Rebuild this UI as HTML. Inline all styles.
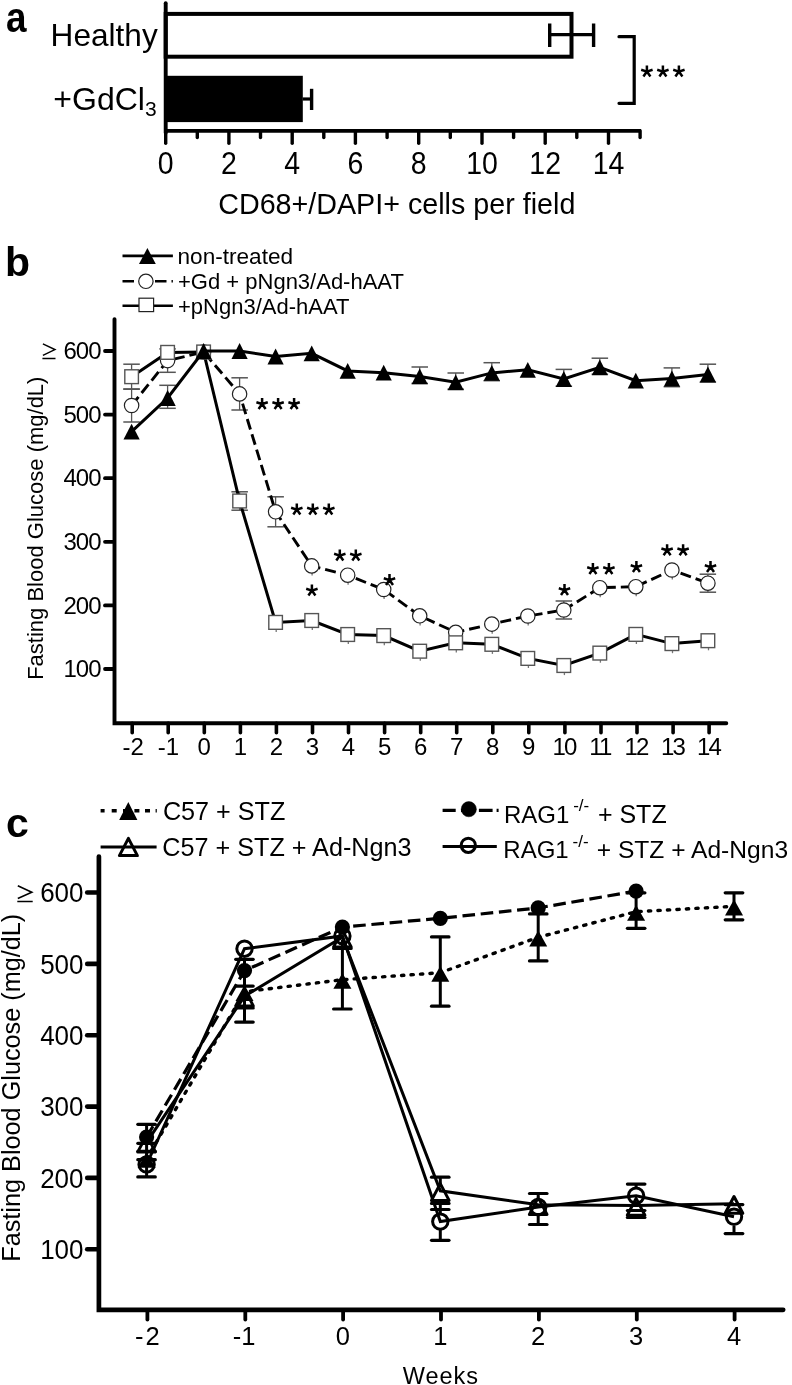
<!DOCTYPE html>
<html><head><meta charset="utf-8"><style>
html,body{margin:0;padding:0;background:#fff;}
svg{display:block;filter:grayscale(1);}
</style></head><body>
<svg width="792" height="1385" viewBox="0 0 792 1385">
<defs><path id="ast" d="M0,-6.1L0,0M-5.7,-1.8L0,0L5.7,-1.8M-3.5,4.9L0,0L3.5,4.9" fill="none" stroke="#000" stroke-width="2.5" stroke-linejoin="round"/></defs>
<rect width="792" height="1385" fill="#fff"/>
<text transform="translate(6.1,31.9) scale(0.9,1.05)" font-family="Liberation Sans" font-size="41" font-weight="bold">a</text>
<rect x="165.7" y="13.9" width="405.8" height="42.8" fill="#fff" stroke="#000" stroke-width="4"/>
<rect x="165.7" y="75.8" width="137.1" height="46.3" fill="#000"/>
<line x1="549.7" y1="34.7" x2="593.6" y2="34.7" stroke="#000" stroke-width="3.2" stroke-linecap="butt" />
<line x1="549.7" y1="23.5" x2="549.7" y2="47.0" stroke="#000" stroke-width="3.4" stroke-linecap="butt" />
<line x1="593.6" y1="23.5" x2="593.6" y2="47.0" stroke="#000" stroke-width="3.4" stroke-linecap="butt" />
<line x1="302.6" y1="99.0" x2="311.6" y2="99.0" stroke="#000" stroke-width="3.2" stroke-linecap="butt" />
<line x1="311.6" y1="88.8" x2="311.6" y2="110.0" stroke="#000" stroke-width="3.4" stroke-linecap="butt" />
<line x1="165.7" y1="3.3" x2="165.7" y2="132.7" stroke="#000" stroke-width="3.9" stroke-linecap="round" />
<line x1="165.7" y1="130.9" x2="641.0" y2="130.9" stroke="#000" stroke-width="3.7" stroke-linecap="butt" />
<line x1="165.7" y1="130.8" x2="165.7" y2="143.2" stroke="#000" stroke-width="3.4" stroke-linecap="round" />
<line x1="197.3" y1="130.8" x2="197.3" y2="137.6" stroke="#000" stroke-width="3.4" stroke-linecap="round" />
<line x1="228.9" y1="130.8" x2="228.9" y2="143.2" stroke="#000" stroke-width="3.4" stroke-linecap="round" />
<line x1="260.5" y1="130.8" x2="260.5" y2="137.6" stroke="#000" stroke-width="3.4" stroke-linecap="round" />
<line x1="292.2" y1="130.8" x2="292.2" y2="143.2" stroke="#000" stroke-width="3.4" stroke-linecap="round" />
<line x1="323.8" y1="130.8" x2="323.8" y2="137.6" stroke="#000" stroke-width="3.4" stroke-linecap="round" />
<line x1="355.4" y1="130.8" x2="355.4" y2="143.2" stroke="#000" stroke-width="3.4" stroke-linecap="round" />
<line x1="387.1" y1="130.8" x2="387.1" y2="137.6" stroke="#000" stroke-width="3.4" stroke-linecap="round" />
<line x1="418.7" y1="130.8" x2="418.7" y2="143.2" stroke="#000" stroke-width="3.4" stroke-linecap="round" />
<line x1="450.3" y1="130.8" x2="450.3" y2="137.6" stroke="#000" stroke-width="3.4" stroke-linecap="round" />
<line x1="482.0" y1="130.8" x2="482.0" y2="143.2" stroke="#000" stroke-width="3.4" stroke-linecap="round" />
<line x1="513.6" y1="130.8" x2="513.6" y2="137.6" stroke="#000" stroke-width="3.4" stroke-linecap="round" />
<line x1="545.2" y1="130.8" x2="545.2" y2="143.2" stroke="#000" stroke-width="3.4" stroke-linecap="round" />
<line x1="576.8" y1="130.8" x2="576.8" y2="137.6" stroke="#000" stroke-width="3.4" stroke-linecap="round" />
<line x1="608.5" y1="130.8" x2="608.5" y2="143.2" stroke="#000" stroke-width="3.4" stroke-linecap="round" />
<line x1="640.1" y1="130.8" x2="640.1" y2="137.6" stroke="#000" stroke-width="3.4" stroke-linecap="round" />
<text transform="translate(165.7,173.6) scale(1,1.1)" font-family="Liberation Sans" font-size="28.5" font-weight="normal" text-anchor="middle" >0</text>
<text transform="translate(228.9,173.6) scale(1,1.1)" font-family="Liberation Sans" font-size="28.5" font-weight="normal" text-anchor="middle" >2</text>
<text transform="translate(292.2,173.6) scale(1,1.1)" font-family="Liberation Sans" font-size="28.5" font-weight="normal" text-anchor="middle" >4</text>
<text transform="translate(355.4,173.6) scale(1,1.1)" font-family="Liberation Sans" font-size="28.5" font-weight="normal" text-anchor="middle" >6</text>
<text transform="translate(418.7,173.6) scale(1,1.1)" font-family="Liberation Sans" font-size="28.5" font-weight="normal" text-anchor="middle" >8</text>
<text transform="translate(482.0,173.6) scale(1,1.1)" font-family="Liberation Sans" font-size="28.5" font-weight="normal" text-anchor="middle" >10</text>
<text transform="translate(545.2,173.6) scale(1,1.1)" font-family="Liberation Sans" font-size="28.5" font-weight="normal" text-anchor="middle" >12</text>
<text transform="translate(608.5,173.6) scale(1,1.1)" font-family="Liberation Sans" font-size="28.5" font-weight="normal" text-anchor="middle" >14</text>
<text x="396.8" y="214.0" font-family="Liberation Sans" font-size="28.7" font-weight="normal" text-anchor="middle" >CD68+/DAPI+ cells per field</text>
<text x="50.6" y="45.9" font-family="Liberation Sans" font-size="31.6" font-weight="normal" text-anchor="start" >Healthy</text>
<text x="53.3" y="109.5" font-family="Liberation Sans" font-size="32" font-weight="normal" text-anchor="start" >+GdCl<tspan font-size="21" dy="6.5">3</tspan></text>
<polyline points="619.0,36.7 634.2,36.7 634.2,103.3 619.0,103.3" fill="none" stroke="#000" stroke-width="3.2" stroke-linecap="round" stroke-linejoin="miter"/>
<use href="#ast" x="646.9" y="71.6"/>
<use href="#ast" x="662.9" y="71.6"/>
<use href="#ast" x="678.9" y="71.6"/>
<text x="5.0" y="275.5" font-family="Liberation Sans" font-size="41" font-weight="bold" text-anchor="start" >b</text>
<line x1="122.5" y1="255.9" x2="172.9" y2="255.9" stroke="#000" stroke-width="2.6" stroke-linecap="butt" />
<polygon points="147.4,248.1 155.8,263.9 139.0,263.9" fill="#000" stroke="none" stroke-width="0" stroke-linejoin="miter"/>
<polyline points="122.5,281.3 172.9,281.3" fill="none" stroke="#000" stroke-width="2.6" stroke-linecap="butt" stroke-linejoin="miter" stroke-dasharray="11.5 21 11.5 5 1.3 0"/>
<circle cx="145.9" cy="281.3" r="7.2" fill="#fff" stroke="#222" stroke-width="1.2"/>
<line x1="122.5" y1="305.8" x2="172.9" y2="305.8" stroke="#000" stroke-width="2.6" stroke-linecap="butt" />
<rect x="139.0" y="298.2" width="14.6" height="13.4" fill="#fff" stroke="#222" stroke-width="1.2"/>
<text x="177.5" y="263.9" font-family="Liberation Sans" font-size="22.6" font-weight="normal" text-anchor="start" >non-treated</text>
<text x="178.0" y="289.0" font-family="Liberation Sans" font-size="22" font-weight="normal" text-anchor="start" >+Gd + pNgn3/Ad-hAAT</text>
<text x="178.0" y="313.8" font-family="Liberation Sans" font-size="22" font-weight="normal" text-anchor="start" >+pNgn3/Ad-hAAT</text>
<polyline points="114.5,319.1 114.5,723.2 726.3,723.2" fill="none" stroke="#000" stroke-width="3.9" stroke-linecap="round" stroke-linejoin="miter"/>
<line x1="105.0" y1="351.0" x2="114.0" y2="351.0" stroke="#000" stroke-width="3.8" stroke-linecap="round" />
<text x="100.5" y="359.2" font-family="Liberation Sans" font-size="24" font-weight="normal" text-anchor="end" letter-spacing="-1">600</text>
<line x1="105.0" y1="414.6" x2="114.0" y2="414.6" stroke="#000" stroke-width="3.8" stroke-linecap="round" />
<text x="100.5" y="422.8" font-family="Liberation Sans" font-size="24" font-weight="normal" text-anchor="end" letter-spacing="-1">500</text>
<line x1="105.0" y1="478.2" x2="114.0" y2="478.2" stroke="#000" stroke-width="3.8" stroke-linecap="round" />
<text x="100.5" y="486.4" font-family="Liberation Sans" font-size="24" font-weight="normal" text-anchor="end" letter-spacing="-1">400</text>
<line x1="105.0" y1="541.8" x2="114.0" y2="541.8" stroke="#000" stroke-width="3.8" stroke-linecap="round" />
<text x="100.5" y="550.0" font-family="Liberation Sans" font-size="24" font-weight="normal" text-anchor="end" letter-spacing="-1">300</text>
<line x1="105.0" y1="605.4" x2="114.0" y2="605.4" stroke="#000" stroke-width="3.8" stroke-linecap="round" />
<text x="100.5" y="613.6" font-family="Liberation Sans" font-size="24" font-weight="normal" text-anchor="end" letter-spacing="-1">200</text>
<line x1="105.0" y1="669.0" x2="114.0" y2="669.0" stroke="#000" stroke-width="3.8" stroke-linecap="round" />
<text x="100.5" y="677.2" font-family="Liberation Sans" font-size="24" font-weight="normal" text-anchor="end" letter-spacing="-1">100</text>
<path d="M42.9,343.9L54.9,349.6L42.9,355.4M42.4,358.5L55.5,358.5" fill="none" stroke="#000" stroke-width="1.5"/>
<line x1="132.2" y1="723.2" x2="132.2" y2="732.8" stroke="#000" stroke-width="3.6" stroke-linecap="round" />
<text x="133.2" y="755.3" font-family="Liberation Sans" font-size="24" font-weight="normal" text-anchor="middle" letter-spacing="0">-2</text>
<line x1="168.2" y1="723.2" x2="168.2" y2="732.8" stroke="#000" stroke-width="3.6" stroke-linecap="round" />
<text x="168.4" y="755.3" font-family="Liberation Sans" font-size="24" font-weight="normal" text-anchor="middle" letter-spacing="0">-1</text>
<line x1="204.3" y1="723.2" x2="204.3" y2="732.8" stroke="#000" stroke-width="3.6" stroke-linecap="round" />
<text x="204.3" y="755.3" font-family="Liberation Sans" font-size="24" font-weight="normal" text-anchor="middle" letter-spacing="0">0</text>
<line x1="240.4" y1="723.2" x2="240.4" y2="732.8" stroke="#000" stroke-width="3.6" stroke-linecap="round" />
<text x="240.4" y="755.3" font-family="Liberation Sans" font-size="24" font-weight="normal" text-anchor="middle" letter-spacing="0">1</text>
<line x1="276.4" y1="723.2" x2="276.4" y2="732.8" stroke="#000" stroke-width="3.6" stroke-linecap="round" />
<text x="276.4" y="755.3" font-family="Liberation Sans" font-size="24" font-weight="normal" text-anchor="middle" letter-spacing="0">2</text>
<line x1="312.5" y1="723.2" x2="312.5" y2="732.8" stroke="#000" stroke-width="3.6" stroke-linecap="round" />
<text x="312.5" y="755.3" font-family="Liberation Sans" font-size="24" font-weight="normal" text-anchor="middle" letter-spacing="0">3</text>
<line x1="348.5" y1="723.2" x2="348.5" y2="732.8" stroke="#000" stroke-width="3.6" stroke-linecap="round" />
<text x="348.5" y="755.3" font-family="Liberation Sans" font-size="24" font-weight="normal" text-anchor="middle" letter-spacing="0">4</text>
<line x1="384.6" y1="723.2" x2="384.6" y2="732.8" stroke="#000" stroke-width="3.6" stroke-linecap="round" />
<text x="384.6" y="755.3" font-family="Liberation Sans" font-size="24" font-weight="normal" text-anchor="middle" letter-spacing="0">5</text>
<line x1="420.7" y1="723.2" x2="420.7" y2="732.8" stroke="#000" stroke-width="3.6" stroke-linecap="round" />
<text x="420.7" y="755.3" font-family="Liberation Sans" font-size="24" font-weight="normal" text-anchor="middle" letter-spacing="0">6</text>
<line x1="456.7" y1="723.2" x2="456.7" y2="732.8" stroke="#000" stroke-width="3.6" stroke-linecap="round" />
<text x="456.7" y="755.3" font-family="Liberation Sans" font-size="24" font-weight="normal" text-anchor="middle" letter-spacing="0">7</text>
<line x1="492.8" y1="723.2" x2="492.8" y2="732.8" stroke="#000" stroke-width="3.6" stroke-linecap="round" />
<text x="492.8" y="755.3" font-family="Liberation Sans" font-size="24" font-weight="normal" text-anchor="middle" letter-spacing="0">8</text>
<line x1="528.8" y1="723.2" x2="528.8" y2="732.8" stroke="#000" stroke-width="3.6" stroke-linecap="round" />
<text x="528.8" y="755.3" font-family="Liberation Sans" font-size="24" font-weight="normal" text-anchor="middle" letter-spacing="0">9</text>
<line x1="564.9" y1="723.2" x2="564.9" y2="732.8" stroke="#000" stroke-width="3.6" stroke-linecap="round" />
<text x="564.0" y="755.3" font-family="Liberation Sans" font-size="24" font-weight="normal" text-anchor="middle" letter-spacing="-1.8">10</text>
<line x1="601.0" y1="723.2" x2="601.0" y2="732.8" stroke="#000" stroke-width="3.6" stroke-linecap="round" />
<text x="599.8" y="755.3" font-family="Liberation Sans" font-size="24" font-weight="normal" text-anchor="middle" letter-spacing="-1.8">11</text>
<line x1="637.0" y1="723.2" x2="637.0" y2="732.8" stroke="#000" stroke-width="3.6" stroke-linecap="round" />
<text x="636.0" y="755.3" font-family="Liberation Sans" font-size="24" font-weight="normal" text-anchor="middle" letter-spacing="-1.8">12</text>
<line x1="673.1" y1="723.2" x2="673.1" y2="732.8" stroke="#000" stroke-width="3.6" stroke-linecap="round" />
<text x="672.5" y="755.3" font-family="Liberation Sans" font-size="24" font-weight="normal" text-anchor="middle" letter-spacing="-1.8">13</text>
<line x1="709.1" y1="723.2" x2="709.1" y2="732.8" stroke="#000" stroke-width="3.6" stroke-linecap="round" />
<text x="708.5" y="755.3" font-family="Liberation Sans" font-size="24" font-weight="normal" text-anchor="middle" letter-spacing="-1.8">14</text>
<text x="43.0" y="528.2" font-family="Liberation Sans" font-size="22" font-weight="normal" text-anchor="middle" transform="rotate(-90 43 528.2)">Fasting Blood Glucose (mg/dL)</text>
<line x1="131.6" y1="389.0" x2="131.6" y2="422.0" stroke="#555" stroke-width="1.3" stroke-linecap="butt" />
<line x1="123.3" y1="389.0" x2="139.8" y2="389.0" stroke="#555" stroke-width="1.5" stroke-linecap="butt" />
<line x1="123.3" y1="422.0" x2="139.8" y2="422.0" stroke="#555" stroke-width="1.5" stroke-linecap="butt" />
<line x1="167.6" y1="348.9" x2="167.6" y2="372.3" stroke="#555" stroke-width="1.3" stroke-linecap="butt" />
<line x1="159.3" y1="348.9" x2="175.8" y2="348.9" stroke="#555" stroke-width="1.5" stroke-linecap="butt" />
<line x1="159.3" y1="372.3" x2="175.8" y2="372.3" stroke="#555" stroke-width="1.5" stroke-linecap="butt" />
<line x1="239.6" y1="377.8" x2="239.6" y2="410.0" stroke="#555" stroke-width="1.3" stroke-linecap="butt" />
<line x1="231.4" y1="377.8" x2="247.9" y2="377.8" stroke="#555" stroke-width="1.5" stroke-linecap="butt" />
<line x1="231.4" y1="410.0" x2="247.9" y2="410.0" stroke="#555" stroke-width="1.5" stroke-linecap="butt" />
<line x1="275.6" y1="496.8" x2="275.6" y2="526.8" stroke="#555" stroke-width="1.3" stroke-linecap="butt" />
<line x1="267.4" y1="496.8" x2="283.9" y2="496.8" stroke="#555" stroke-width="1.5" stroke-linecap="butt" />
<line x1="267.4" y1="526.8" x2="283.9" y2="526.8" stroke="#555" stroke-width="1.5" stroke-linecap="butt" />
<line x1="563.8" y1="601.0" x2="563.8" y2="619.0" stroke="#555" stroke-width="1.3" stroke-linecap="butt" />
<line x1="555.6" y1="601.0" x2="572.1" y2="601.0" stroke="#555" stroke-width="1.5" stroke-linecap="butt" />
<line x1="555.6" y1="619.0" x2="572.1" y2="619.0" stroke="#555" stroke-width="1.5" stroke-linecap="butt" />
<line x1="707.9" y1="574.2" x2="707.9" y2="592.2" stroke="#555" stroke-width="1.3" stroke-linecap="butt" />
<line x1="699.6" y1="574.2" x2="716.1" y2="574.2" stroke="#555" stroke-width="1.5" stroke-linecap="butt" />
<line x1="699.6" y1="592.2" x2="716.1" y2="592.2" stroke="#555" stroke-width="1.5" stroke-linecap="butt" />
<polyline points="131.6,405.5 167.6,360.6 203.6,352.0 239.6,393.9 275.6,511.8 311.7,565.9 347.7,575.2 383.7,589.5 419.7,615.8 455.7,632.3 491.8,624.1 527.8,616.0 563.8,610.0 599.8,587.7 635.8,586.7 671.9,570.0 707.9,583.2" fill="none" stroke="#000" stroke-width="2.9" stroke-linecap="butt" stroke-linejoin="miter" stroke-dasharray="11 5"/>
<line x1="312.1" y1="572.9" x2="312.1" y2="575.5" stroke="#777" stroke-width="1.3" stroke-linecap="butt" />
<line x1="348.1" y1="582.2" x2="348.1" y2="584.8" stroke="#777" stroke-width="1.3" stroke-linecap="butt" />
<line x1="384.1" y1="596.5" x2="384.1" y2="599.1" stroke="#777" stroke-width="1.3" stroke-linecap="butt" />
<line x1="420.1" y1="622.8" x2="420.1" y2="625.4" stroke="#777" stroke-width="1.3" stroke-linecap="butt" />
<line x1="456.1" y1="639.3" x2="456.1" y2="641.9" stroke="#777" stroke-width="1.3" stroke-linecap="butt" />
<line x1="492.2" y1="631.1" x2="492.2" y2="633.7" stroke="#777" stroke-width="1.3" stroke-linecap="butt" />
<line x1="528.2" y1="623.0" x2="528.2" y2="625.6" stroke="#777" stroke-width="1.3" stroke-linecap="butt" />
<line x1="600.2" y1="594.7" x2="600.2" y2="597.3" stroke="#777" stroke-width="1.3" stroke-linecap="butt" />
<line x1="636.2" y1="593.7" x2="636.2" y2="596.3" stroke="#777" stroke-width="1.3" stroke-linecap="butt" />
<line x1="672.3" y1="577.0" x2="672.3" y2="579.6" stroke="#777" stroke-width="1.3" stroke-linecap="butt" />
<circle cx="131.6" cy="405.5" r="7.2" fill="#fff" stroke="#222" stroke-width="1.2"/>
<circle cx="167.6" cy="360.6" r="7.2" fill="#fff" stroke="#222" stroke-width="1.2"/>
<circle cx="203.6" cy="352.0" r="7.2" fill="#fff" stroke="#222" stroke-width="1.2"/>
<circle cx="239.6" cy="393.9" r="7.2" fill="#fff" stroke="#222" stroke-width="1.2"/>
<circle cx="275.6" cy="511.8" r="7.2" fill="#fff" stroke="#222" stroke-width="1.2"/>
<circle cx="311.7" cy="565.9" r="7.2" fill="#fff" stroke="#222" stroke-width="1.2"/>
<circle cx="347.7" cy="575.2" r="7.2" fill="#fff" stroke="#222" stroke-width="1.2"/>
<circle cx="383.7" cy="589.5" r="7.2" fill="#fff" stroke="#222" stroke-width="1.2"/>
<circle cx="419.7" cy="615.8" r="7.2" fill="#fff" stroke="#222" stroke-width="1.2"/>
<circle cx="455.7" cy="632.3" r="7.2" fill="#fff" stroke="#222" stroke-width="1.2"/>
<circle cx="491.8" cy="624.1" r="7.2" fill="#fff" stroke="#222" stroke-width="1.2"/>
<circle cx="527.8" cy="616.0" r="7.2" fill="#fff" stroke="#222" stroke-width="1.2"/>
<circle cx="563.8" cy="610.0" r="7.2" fill="#fff" stroke="#222" stroke-width="1.2"/>
<circle cx="599.8" cy="587.7" r="7.2" fill="#fff" stroke="#222" stroke-width="1.2"/>
<circle cx="635.8" cy="586.7" r="7.2" fill="#fff" stroke="#222" stroke-width="1.2"/>
<circle cx="671.9" cy="570.0" r="7.2" fill="#fff" stroke="#222" stroke-width="1.2"/>
<circle cx="707.9" cy="583.2" r="7.2" fill="#fff" stroke="#222" stroke-width="1.2"/>
<line x1="131.6" y1="364.2" x2="131.6" y2="389.2" stroke="#555" stroke-width="1.3" stroke-linecap="butt" />
<line x1="123.3" y1="364.2" x2="139.8" y2="364.2" stroke="#555" stroke-width="1.5" stroke-linecap="butt" />
<line x1="123.3" y1="389.2" x2="139.8" y2="389.2" stroke="#555" stroke-width="1.5" stroke-linecap="butt" />
<line x1="239.6" y1="491.8" x2="239.6" y2="510.2" stroke="#555" stroke-width="1.3" stroke-linecap="butt" />
<line x1="231.4" y1="491.8" x2="247.9" y2="491.8" stroke="#555" stroke-width="1.5" stroke-linecap="butt" />
<line x1="231.4" y1="510.2" x2="247.9" y2="510.2" stroke="#555" stroke-width="1.5" stroke-linecap="butt" />
<polyline points="131.6,376.7 167.6,352.4 203.6,352.0 239.6,501.0 275.6,622.4 311.7,620.5 347.7,634.5 383.7,635.6 419.7,651.2 455.7,642.8 491.8,644.3 527.8,658.4 563.8,665.5 599.8,653.1 635.8,634.4 671.9,643.6 707.9,640.7" fill="none" stroke="#000" stroke-width="3.0" stroke-linecap="butt" stroke-linejoin="miter"/>
<line x1="276.2" y1="629.4" x2="276.2" y2="632.0" stroke="#777" stroke-width="1.3" stroke-linecap="butt" />
<line x1="312.3" y1="627.5" x2="312.3" y2="630.1" stroke="#777" stroke-width="1.3" stroke-linecap="butt" />
<line x1="348.3" y1="641.5" x2="348.3" y2="644.1" stroke="#777" stroke-width="1.3" stroke-linecap="butt" />
<line x1="384.3" y1="642.6" x2="384.3" y2="645.2" stroke="#777" stroke-width="1.3" stroke-linecap="butt" />
<line x1="420.3" y1="658.2" x2="420.3" y2="660.8" stroke="#777" stroke-width="1.3" stroke-linecap="butt" />
<line x1="456.3" y1="649.8" x2="456.3" y2="652.4" stroke="#777" stroke-width="1.3" stroke-linecap="butt" />
<line x1="492.4" y1="651.3" x2="492.4" y2="653.9" stroke="#777" stroke-width="1.3" stroke-linecap="butt" />
<line x1="528.4" y1="665.4" x2="528.4" y2="668.0" stroke="#777" stroke-width="1.3" stroke-linecap="butt" />
<line x1="564.4" y1="672.5" x2="564.4" y2="675.1" stroke="#777" stroke-width="1.3" stroke-linecap="butt" />
<line x1="600.4" y1="660.1" x2="600.4" y2="662.7" stroke="#777" stroke-width="1.3" stroke-linecap="butt" />
<line x1="636.4" y1="641.4" x2="636.4" y2="644.0" stroke="#777" stroke-width="1.3" stroke-linecap="butt" />
<line x1="672.5" y1="650.6" x2="672.5" y2="653.2" stroke="#777" stroke-width="1.3" stroke-linecap="butt" />
<line x1="708.5" y1="647.7" x2="708.5" y2="650.3" stroke="#777" stroke-width="1.3" stroke-linecap="butt" />
<rect x="124.8" y="369.8" width="13.6" height="13.8" fill="#fff" stroke="#555" stroke-width="1.4"/>
<rect x="160.8" y="345.5" width="13.6" height="13.8" fill="#fff" stroke="#555" stroke-width="1.4"/>
<rect x="196.8" y="345.1" width="13.6" height="13.8" fill="#fff" stroke="#555" stroke-width="1.4"/>
<rect x="232.8" y="494.1" width="13.6" height="13.8" fill="#fff" stroke="#555" stroke-width="1.4"/>
<rect x="268.8" y="615.5" width="13.6" height="13.8" fill="#fff" stroke="#555" stroke-width="1.4"/>
<rect x="304.9" y="613.6" width="13.6" height="13.8" fill="#fff" stroke="#555" stroke-width="1.4"/>
<rect x="340.9" y="627.6" width="13.6" height="13.8" fill="#fff" stroke="#555" stroke-width="1.4"/>
<rect x="376.9" y="628.7" width="13.6" height="13.8" fill="#fff" stroke="#555" stroke-width="1.4"/>
<rect x="412.9" y="644.3" width="13.6" height="13.8" fill="#fff" stroke="#555" stroke-width="1.4"/>
<rect x="448.9" y="635.9" width="13.6" height="13.8" fill="#fff" stroke="#555" stroke-width="1.4"/>
<rect x="485.0" y="637.4" width="13.6" height="13.8" fill="#fff" stroke="#555" stroke-width="1.4"/>
<rect x="521.0" y="651.5" width="13.6" height="13.8" fill="#fff" stroke="#555" stroke-width="1.4"/>
<rect x="557.0" y="658.6" width="13.6" height="13.8" fill="#fff" stroke="#555" stroke-width="1.4"/>
<rect x="593.0" y="646.2" width="13.6" height="13.8" fill="#fff" stroke="#555" stroke-width="1.4"/>
<rect x="629.0" y="627.5" width="13.6" height="13.8" fill="#fff" stroke="#555" stroke-width="1.4"/>
<rect x="665.1" y="636.7" width="13.6" height="13.8" fill="#fff" stroke="#555" stroke-width="1.4"/>
<rect x="701.1" y="633.8" width="13.6" height="13.8" fill="#fff" stroke="#555" stroke-width="1.4"/>
<line x1="167.6" y1="385.3" x2="167.6" y2="408.3" stroke="#555" stroke-width="1.3" stroke-linecap="butt" />
<line x1="159.3" y1="385.3" x2="175.8" y2="385.3" stroke="#555" stroke-width="1.5" stroke-linecap="butt" />
<line x1="159.3" y1="408.3" x2="175.8" y2="408.3" stroke="#555" stroke-width="1.5" stroke-linecap="butt" />
<line x1="419.7" y1="367.0" x2="419.7" y2="383.4" stroke="#555" stroke-width="1.3" stroke-linecap="butt" />
<line x1="411.5" y1="367.0" x2="428.0" y2="367.0" stroke="#555" stroke-width="1.5" stroke-linecap="butt" />
<line x1="411.5" y1="383.4" x2="428.0" y2="383.4" stroke="#555" stroke-width="1.5" stroke-linecap="butt" />
<line x1="455.7" y1="373.0" x2="455.7" y2="389.2" stroke="#555" stroke-width="1.3" stroke-linecap="butt" />
<line x1="447.5" y1="373.0" x2="464.0" y2="373.0" stroke="#555" stroke-width="1.5" stroke-linecap="butt" />
<line x1="447.5" y1="389.2" x2="464.0" y2="389.2" stroke="#555" stroke-width="1.5" stroke-linecap="butt" />
<line x1="491.8" y1="362.7" x2="491.8" y2="380.7" stroke="#555" stroke-width="1.3" stroke-linecap="butt" />
<line x1="483.5" y1="362.7" x2="500.0" y2="362.7" stroke="#555" stroke-width="1.5" stroke-linecap="butt" />
<line x1="483.5" y1="380.7" x2="500.0" y2="380.7" stroke="#555" stroke-width="1.5" stroke-linecap="butt" />
<line x1="563.8" y1="369.4" x2="563.8" y2="386.2" stroke="#555" stroke-width="1.3" stroke-linecap="butt" />
<line x1="555.6" y1="369.4" x2="572.1" y2="369.4" stroke="#555" stroke-width="1.5" stroke-linecap="butt" />
<line x1="555.6" y1="386.2" x2="572.1" y2="386.2" stroke="#555" stroke-width="1.5" stroke-linecap="butt" />
<line x1="599.8" y1="358.2" x2="599.8" y2="374.2" stroke="#555" stroke-width="1.3" stroke-linecap="butt" />
<line x1="591.6" y1="358.2" x2="608.1" y2="358.2" stroke="#555" stroke-width="1.5" stroke-linecap="butt" />
<line x1="591.6" y1="374.2" x2="608.1" y2="374.2" stroke="#555" stroke-width="1.5" stroke-linecap="butt" />
<line x1="671.9" y1="367.9" x2="671.9" y2="386.7" stroke="#555" stroke-width="1.3" stroke-linecap="butt" />
<line x1="663.6" y1="367.9" x2="680.1" y2="367.9" stroke="#555" stroke-width="1.5" stroke-linecap="butt" />
<line x1="663.6" y1="386.7" x2="680.1" y2="386.7" stroke="#555" stroke-width="1.5" stroke-linecap="butt" />
<line x1="707.9" y1="364.2" x2="707.9" y2="382.2" stroke="#555" stroke-width="1.3" stroke-linecap="butt" />
<line x1="699.6" y1="364.2" x2="716.1" y2="364.2" stroke="#555" stroke-width="1.5" stroke-linecap="butt" />
<line x1="699.6" y1="382.2" x2="716.1" y2="382.2" stroke="#555" stroke-width="1.5" stroke-linecap="butt" />
<polyline points="131.6,431.6 167.6,398.0 203.6,351.0 239.6,351.0 275.6,356.5 311.7,353.3 347.7,370.9 383.7,372.7 419.7,376.4 455.7,382.3 491.8,372.9 527.8,369.8 563.8,379.0 599.8,367.4 635.8,380.7 671.9,378.5 707.9,374.4" fill="none" stroke="#000" stroke-width="3.0" stroke-linecap="butt" stroke-linejoin="miter"/>
<polygon points="131.6,423.7 139.7,439.5 123.5,439.5" fill="#000" stroke="none" stroke-width="0" stroke-linejoin="miter"/>
<polygon points="167.6,390.1 175.7,405.9 159.5,405.9" fill="#000" stroke="none" stroke-width="0" stroke-linejoin="miter"/>
<polygon points="203.6,343.1 211.7,358.9 195.5,358.9" fill="#000" stroke="none" stroke-width="0" stroke-linejoin="miter"/>
<polygon points="239.6,343.1 247.7,358.9 231.5,358.9" fill="#000" stroke="none" stroke-width="0" stroke-linejoin="miter"/>
<polygon points="275.6,348.6 283.7,364.4 267.5,364.4" fill="#000" stroke="none" stroke-width="0" stroke-linejoin="miter"/>
<polygon points="311.7,345.4 319.8,361.2 303.6,361.2" fill="#000" stroke="none" stroke-width="0" stroke-linejoin="miter"/>
<polygon points="347.7,363.0 355.8,378.8 339.6,378.8" fill="#000" stroke="none" stroke-width="0" stroke-linejoin="miter"/>
<polygon points="383.7,364.8 391.8,380.6 375.6,380.6" fill="#000" stroke="none" stroke-width="0" stroke-linejoin="miter"/>
<polygon points="419.7,368.5 427.8,384.3 411.6,384.3" fill="#000" stroke="none" stroke-width="0" stroke-linejoin="miter"/>
<polygon points="455.7,374.4 463.8,390.2 447.6,390.2" fill="#000" stroke="none" stroke-width="0" stroke-linejoin="miter"/>
<polygon points="491.8,365.0 499.9,380.8 483.7,380.8" fill="#000" stroke="none" stroke-width="0" stroke-linejoin="miter"/>
<polygon points="527.8,361.9 535.9,377.7 519.7,377.7" fill="#000" stroke="none" stroke-width="0" stroke-linejoin="miter"/>
<polygon points="563.8,371.1 571.9,386.9 555.7,386.9" fill="#000" stroke="none" stroke-width="0" stroke-linejoin="miter"/>
<polygon points="599.8,359.5 607.9,375.3 591.7,375.3" fill="#000" stroke="none" stroke-width="0" stroke-linejoin="miter"/>
<polygon points="635.8,372.8 643.9,388.6 627.7,388.6" fill="#000" stroke="none" stroke-width="0" stroke-linejoin="miter"/>
<polygon points="671.9,370.6 680.0,386.4 663.8,386.4" fill="#000" stroke="none" stroke-width="0" stroke-linejoin="miter"/>
<polygon points="707.9,366.5 716.0,382.3 699.8,382.3" fill="#000" stroke="none" stroke-width="0" stroke-linejoin="miter"/>
<use href="#ast" x="262.1" y="404.0"/>
<use href="#ast" x="278.1" y="404.0"/>
<use href="#ast" x="294.1" y="404.0"/>
<use href="#ast" x="296.8" y="509.6"/>
<use href="#ast" x="312.8" y="509.6"/>
<use href="#ast" x="328.8" y="509.6"/>
<use href="#ast" x="311.9" y="590.6"/>
<use href="#ast" x="339.8" y="555.6"/>
<use href="#ast" x="355.8" y="555.6"/>
<use href="#ast" x="389.5" y="580.1"/>
<use href="#ast" x="564.5" y="590.1"/>
<use href="#ast" x="592.9" y="569.1"/>
<use href="#ast" x="608.9" y="569.1"/>
<use href="#ast" x="636.4" y="567.1"/>
<use href="#ast" x="667.1" y="550.3"/>
<use href="#ast" x="683.1" y="550.3"/>
<use href="#ast" x="710.5" y="567.1"/>
<text x="6.0" y="836.7" font-family="Liberation Sans" font-size="41" font-weight="bold" text-anchor="start" >c</text>
<polyline points="100.6,810.7 157.0,810.7" fill="none" stroke="#000" stroke-width="3.4" stroke-linecap="butt" stroke-linejoin="miter" stroke-dasharray="4 7.1 5 6.3 5 6.4 5 5.6 5 5.6 1.2 10"/>
<polygon points="128.3,802.0 137.4,820.0 119.2,820.0" fill="#000" stroke="none" stroke-width="0" stroke-linejoin="miter"/>
<line x1="100.6" y1="847.0" x2="156.6" y2="847.0" stroke="#000" stroke-width="3" stroke-linecap="butt" />
<polygon points="128.4,838.4 137.4,855.6 119.4,855.6" fill="none" stroke="#000" stroke-width="3" stroke-linejoin="round"/>
<polyline points="442.6,810.4 498.6,810.4" fill="none" stroke="#000" stroke-width="3.4" stroke-linecap="butt" stroke-linejoin="miter" stroke-dasharray="13.1 5.3 13 4.9 13.7 4 2 20"/>
<circle cx="468.8" cy="809.2" r="7.6" fill="#000" stroke="#000" stroke-width="0.5"/>
<line x1="442.6" y1="846.5" x2="496.8" y2="846.5" stroke="#000" stroke-width="3" stroke-linecap="butt" />
<circle cx="468.3" cy="845.3" r="7.1" fill="none" stroke="#000" stroke-width="3"/>
<text x="162.9" y="820.0" font-family="Liberation Sans" font-size="25.2" font-weight="normal" text-anchor="start" >C57 + STZ</text>
<text x="162.3" y="855.8" font-family="Liberation Sans" font-size="25.2" font-weight="normal" text-anchor="start" >C57 + STZ + Ad-Ngn3</text>
<text x="504.0" y="822.7" font-family="Liberation Sans" font-size="24" font-weight="normal" text-anchor="start" >RAG1</text>
<text x="573.2" y="811.1" font-family="Liberation Sans" font-size="17" font-weight="normal" text-anchor="start" >-/-</text>
<text x="597.9" y="822.7" font-family="Liberation Sans" font-size="25" font-weight="normal" text-anchor="start" >+ STZ</text>
<text x="503.3" y="858.3" font-family="Liberation Sans" font-size="24" font-weight="normal" text-anchor="start" >RAG1</text>
<text x="572.5" y="846.7" font-family="Liberation Sans" font-size="17" font-weight="normal" text-anchor="start" >-/-</text>
<text x="596.7" y="858.3" font-family="Liberation Sans" font-size="24.6" font-weight="normal" text-anchor="start" >+ STZ + Ad-Ngn3</text>
<polyline points="98.9,856.6 98.9,1309.8 783.2,1309.8" fill="none" stroke="#000" stroke-width="4.7" stroke-linecap="round" stroke-linejoin="miter"/>
<line x1="87.2" y1="892.5" x2="97.5" y2="892.5" stroke="#000" stroke-width="4.6" stroke-linecap="round" />
<text transform="translate(83.5,902.2) scale(1,1.07)" font-family="Liberation Sans" font-size="26" font-weight="normal" text-anchor="end" >600</text>
<line x1="87.2" y1="963.9" x2="97.5" y2="963.9" stroke="#000" stroke-width="4.6" stroke-linecap="round" />
<text transform="translate(83.5,973.6) scale(1,1.07)" font-family="Liberation Sans" font-size="26" font-weight="normal" text-anchor="end" >500</text>
<line x1="87.2" y1="1035.2" x2="97.5" y2="1035.2" stroke="#000" stroke-width="4.6" stroke-linecap="round" />
<text transform="translate(83.5,1044.9) scale(1,1.07)" font-family="Liberation Sans" font-size="26" font-weight="normal" text-anchor="end" >400</text>
<line x1="87.2" y1="1106.6" x2="97.5" y2="1106.6" stroke="#000" stroke-width="4.6" stroke-linecap="round" />
<text transform="translate(83.5,1116.3) scale(1,1.07)" font-family="Liberation Sans" font-size="26" font-weight="normal" text-anchor="end" >300</text>
<line x1="87.2" y1="1177.9" x2="97.5" y2="1177.9" stroke="#000" stroke-width="4.6" stroke-linecap="round" />
<text transform="translate(83.5,1187.6) scale(1,1.07)" font-family="Liberation Sans" font-size="26" font-weight="normal" text-anchor="end" >200</text>
<line x1="87.2" y1="1249.3" x2="97.5" y2="1249.3" stroke="#000" stroke-width="4.6" stroke-linecap="round" />
<text transform="translate(83.5,1259.0) scale(1,1.07)" font-family="Liberation Sans" font-size="26" font-weight="normal" text-anchor="end" >100</text>
<path d="M17.8,885.7L31.8,892.2L17.8,898.6M17.3,901.5L32.7,901.5" fill="none" stroke="#000" stroke-width="1.6"/>
<line x1="147.4" y1="1310.0" x2="147.4" y2="1319.5" stroke="#000" stroke-width="3.8" stroke-linecap="round" />
<text x="148.4" y="1345.2" font-family="Liberation Sans" font-size="25.5" font-weight="normal" text-anchor="middle" letter-spacing="2">-2</text>
<line x1="245.3" y1="1310.0" x2="245.3" y2="1319.5" stroke="#000" stroke-width="3.8" stroke-linecap="round" />
<text x="244.2" y="1345.2" font-family="Liberation Sans" font-size="25.5" font-weight="normal" text-anchor="middle" >-1</text>
<line x1="343.1" y1="1310.0" x2="343.1" y2="1319.5" stroke="#000" stroke-width="3.8" stroke-linecap="round" />
<text x="342.8" y="1345.2" font-family="Liberation Sans" font-size="25.5" font-weight="normal" text-anchor="middle" >0</text>
<line x1="441.0" y1="1310.0" x2="441.0" y2="1319.5" stroke="#000" stroke-width="3.8" stroke-linecap="round" />
<text x="440.3" y="1345.2" font-family="Liberation Sans" font-size="25.5" font-weight="normal" text-anchor="middle" >1</text>
<line x1="538.9" y1="1310.0" x2="538.9" y2="1319.5" stroke="#000" stroke-width="3.8" stroke-linecap="round" />
<text x="538.2" y="1345.2" font-family="Liberation Sans" font-size="25.5" font-weight="normal" text-anchor="middle" >2</text>
<line x1="636.8" y1="1310.0" x2="636.8" y2="1319.5" stroke="#000" stroke-width="3.8" stroke-linecap="round" />
<text x="636.1" y="1345.2" font-family="Liberation Sans" font-size="25.5" font-weight="normal" text-anchor="middle" >3</text>
<line x1="734.6" y1="1310.0" x2="734.6" y2="1319.5" stroke="#000" stroke-width="3.8" stroke-linecap="round" />
<text x="734.0" y="1345.2" font-family="Liberation Sans" font-size="25.5" font-weight="normal" text-anchor="middle" >4</text>
<text x="440.9" y="1383.8" font-family="Liberation Sans" font-size="23.5" font-weight="normal" text-anchor="middle" letter-spacing="1">Weeks</text>
<text x="19.6" y="1087.8" font-family="Liberation Sans" font-size="25.25" font-weight="normal" text-anchor="middle" transform="rotate(-90 19.6 1087.75)">Fasting Blood Glucose (mg/dL)</text>
<line x1="146.6" y1="1124.3" x2="146.6" y2="1176.9" stroke="#000" stroke-width="3" stroke-linecap="butt" />
<line x1="137.8" y1="1124.3" x2="155.3" y2="1124.3" stroke="#000" stroke-width="3.2" stroke-linecap="round" />
<line x1="137.8" y1="1143.3" x2="155.3" y2="1143.3" stroke="#000" stroke-width="3.2" stroke-linecap="round" />
<line x1="137.8" y1="1151.3" x2="155.3" y2="1151.3" stroke="#000" stroke-width="3.2" stroke-linecap="round" />
<line x1="137.8" y1="1159.7" x2="155.3" y2="1159.7" stroke="#000" stroke-width="3.2" stroke-linecap="round" />
<line x1="137.8" y1="1176.9" x2="155.3" y2="1176.9" stroke="#000" stroke-width="3.2" stroke-linecap="round" />
<line x1="244.5" y1="959.3" x2="244.5" y2="1022.1" stroke="#000" stroke-width="3" stroke-linecap="butt" />
<line x1="235.7" y1="959.3" x2="253.2" y2="959.3" stroke="#000" stroke-width="3.2" stroke-linecap="round" />
<line x1="235.7" y1="986.1" x2="253.2" y2="986.1" stroke="#000" stroke-width="3.2" stroke-linecap="round" />
<line x1="235.7" y1="1008.0" x2="253.2" y2="1008.0" stroke="#000" stroke-width="3.2" stroke-linecap="round" />
<line x1="235.7" y1="1022.1" x2="253.2" y2="1022.1" stroke="#000" stroke-width="3.2" stroke-linecap="round" />
<line x1="342.4" y1="940.0" x2="342.4" y2="1009.0" stroke="#000" stroke-width="3" stroke-linecap="butt" />
<line x1="333.6" y1="948.5" x2="351.1" y2="948.5" stroke="#000" stroke-width="3.2" stroke-linecap="round" />
<line x1="333.6" y1="1009.0" x2="351.1" y2="1009.0" stroke="#000" stroke-width="3.2" stroke-linecap="round" />
<line x1="440.3" y1="936.9" x2="440.3" y2="1006.2" stroke="#000" stroke-width="3" stroke-linecap="butt" />
<line x1="431.5" y1="936.9" x2="449.0" y2="936.9" stroke="#000" stroke-width="3.2" stroke-linecap="round" />
<line x1="431.5" y1="1006.2" x2="449.0" y2="1006.2" stroke="#000" stroke-width="3.2" stroke-linecap="round" />
<line x1="440.3" y1="1177.2" x2="440.3" y2="1185.0" stroke="#000" stroke-width="3" stroke-linecap="butt" />
<line x1="440.3" y1="1201.0" x2="440.3" y2="1213.5" stroke="#000" stroke-width="3" stroke-linecap="butt" />
<line x1="440.3" y1="1230.0" x2="440.3" y2="1240.3" stroke="#000" stroke-width="3" stroke-linecap="butt" />
<line x1="431.5" y1="1177.2" x2="449.0" y2="1177.2" stroke="#000" stroke-width="3.2" stroke-linecap="round" />
<line x1="431.5" y1="1203.4" x2="449.0" y2="1203.4" stroke="#000" stroke-width="3.2" stroke-linecap="round" />
<line x1="431.5" y1="1209.5" x2="449.0" y2="1209.5" stroke="#000" stroke-width="3.2" stroke-linecap="round" />
<line x1="431.5" y1="1240.3" x2="449.0" y2="1240.3" stroke="#000" stroke-width="3.2" stroke-linecap="round" />
<line x1="538.2" y1="913.9" x2="538.2" y2="960.9" stroke="#000" stroke-width="3" stroke-linecap="butt" />
<line x1="529.5" y1="913.9" x2="547.0" y2="913.9" stroke="#000" stroke-width="3.2" stroke-linecap="round" />
<line x1="529.5" y1="960.9" x2="547.0" y2="960.9" stroke="#000" stroke-width="3.2" stroke-linecap="round" />
<line x1="538.2" y1="1193.5" x2="538.2" y2="1197.0" stroke="#000" stroke-width="3" stroke-linecap="butt" />
<line x1="538.2" y1="1216.0" x2="538.2" y2="1224.5" stroke="#000" stroke-width="3" stroke-linecap="butt" />
<line x1="529.5" y1="1193.5" x2="547.0" y2="1193.5" stroke="#000" stroke-width="3.2" stroke-linecap="round" />
<line x1="529.5" y1="1224.5" x2="547.0" y2="1224.5" stroke="#000" stroke-width="3.2" stroke-linecap="round" />
<line x1="636.1" y1="892.8" x2="636.1" y2="928.3" stroke="#000" stroke-width="3" stroke-linecap="butt" />
<line x1="627.4" y1="892.8" x2="644.9" y2="892.8" stroke="#000" stroke-width="3.2" stroke-linecap="round" />
<line x1="627.4" y1="928.3" x2="644.9" y2="928.3" stroke="#000" stroke-width="3.2" stroke-linecap="round" />
<line x1="636.1" y1="1184.1" x2="636.1" y2="1187.0" stroke="#000" stroke-width="3" stroke-linecap="butt" />
<line x1="627.4" y1="1184.1" x2="644.9" y2="1184.1" stroke="#000" stroke-width="3.2" stroke-linecap="round" />
<line x1="627.4" y1="1210.5" x2="644.9" y2="1210.5" stroke="#000" stroke-width="3.2" stroke-linecap="round" />
<line x1="627.4" y1="1217.5" x2="644.9" y2="1217.5" stroke="#000" stroke-width="3.2" stroke-linecap="round" />
<line x1="734.0" y1="892.8" x2="734.0" y2="919.8" stroke="#000" stroke-width="3" stroke-linecap="butt" />
<line x1="725.2" y1="892.8" x2="742.8" y2="892.8" stroke="#000" stroke-width="3.2" stroke-linecap="round" />
<line x1="725.2" y1="919.8" x2="742.8" y2="919.8" stroke="#000" stroke-width="3.2" stroke-linecap="round" />
<line x1="734.0" y1="1225.9" x2="734.0" y2="1233.6" stroke="#000" stroke-width="3" stroke-linecap="butt" />
<line x1="725.2" y1="1204.6" x2="742.8" y2="1204.6" stroke="#000" stroke-width="3.2" stroke-linecap="round" />
<line x1="725.2" y1="1233.6" x2="742.8" y2="1233.6" stroke="#000" stroke-width="3.2" stroke-linecap="round" />
<polyline points="146.6,1164.5 244.5,948.7 342.4,936.0 440.3,1221.6 538.2,1207.0 636.1,1195.7 734.0,1216.8" fill="none" stroke="#000" stroke-width="3" stroke-linecap="butt" stroke-linejoin="miter"/>
<circle cx="146.6" cy="1164.5" r="7.7" fill="none" stroke="#000" stroke-width="3"/>
<circle cx="244.5" cy="948.7" r="7.7" fill="none" stroke="#000" stroke-width="3"/>
<circle cx="342.4" cy="936.0" r="7.7" fill="none" stroke="#000" stroke-width="3"/>
<circle cx="440.3" cy="1221.6" r="7.7" fill="none" stroke="#000" stroke-width="3"/>
<circle cx="538.2" cy="1207.0" r="7.7" fill="none" stroke="#000" stroke-width="3"/>
<circle cx="636.1" cy="1195.7" r="7.7" fill="none" stroke="#000" stroke-width="3"/>
<circle cx="734.0" cy="1216.8" r="7.7" fill="none" stroke="#000" stroke-width="3"/>
<polyline points="146.6,1142.3 244.5,996.3 342.4,937.3 440.3,1190.8 538.2,1204.8 636.1,1205.6 734.0,1203.7" fill="none" stroke="#000" stroke-width="3" stroke-linecap="butt" stroke-linejoin="miter"/>
<polygon points="146.6,1135.1 155.4,1151.9 137.8,1151.9" fill="none" stroke="#000" stroke-width="3" stroke-linejoin="round"/>
<polygon points="244.5,989.1 253.3,1005.9 235.7,1005.9" fill="none" stroke="#000" stroke-width="3" stroke-linejoin="round"/>
<polygon points="342.4,930.1 351.2,946.9 333.6,946.9" fill="none" stroke="#000" stroke-width="3" stroke-linejoin="round"/>
<polygon points="440.3,1183.6 449.1,1200.4 431.5,1200.4" fill="none" stroke="#000" stroke-width="3" stroke-linejoin="round"/>
<polygon points="538.2,1197.6 547.0,1214.4 529.4,1214.4" fill="none" stroke="#000" stroke-width="3" stroke-linejoin="round"/>
<polygon points="636.1,1198.4 644.9,1215.2 627.3,1215.2" fill="none" stroke="#000" stroke-width="3" stroke-linejoin="round"/>
<polygon points="734.0,1196.5 742.8,1213.3 725.2,1213.3" fill="none" stroke="#000" stroke-width="3" stroke-linejoin="round"/>
<polyline points="146.6,1137.1 244.5,970.6 342.4,927.1 440.3,918.3 538.2,907.9 636.1,891.1" fill="none" stroke="#000" stroke-width="3.2" stroke-linecap="butt" stroke-linejoin="miter" stroke-dasharray="12.6 5.7"/>
<circle cx="146.6" cy="1137.1" r="7.6" fill="#000" stroke="none" stroke-width="0"/>
<circle cx="244.5" cy="970.6" r="7.6" fill="#000" stroke="none" stroke-width="0"/>
<circle cx="342.4" cy="927.1" r="7.6" fill="#000" stroke="none" stroke-width="0"/>
<circle cx="440.3" cy="918.3" r="7.6" fill="#000" stroke="none" stroke-width="0"/>
<circle cx="538.2" cy="907.9" r="7.6" fill="#000" stroke="none" stroke-width="0"/>
<circle cx="636.1" cy="891.1" r="7.6" fill="#000" stroke="none" stroke-width="0"/>
<polyline points="146.6,1158.8 244.5,991.8 342.4,979.7 440.3,972.7 538.2,937.3 636.1,911.7 734.0,906.3" fill="none" stroke="#000" stroke-width="3.4" stroke-linecap="round" stroke-linejoin="miter" stroke-dasharray="2.3 7.2"/>
<polygon points="146.6,1152.2 155.6,1167.8 137.6,1167.8" fill="#000" stroke="none" stroke-width="0" stroke-linejoin="miter"/>
<polygon points="244.5,985.1 253.5,1000.9 235.5,1000.9" fill="#000" stroke="none" stroke-width="0" stroke-linejoin="miter"/>
<polygon points="342.4,973.0 351.4,988.8 333.4,988.8" fill="#000" stroke="none" stroke-width="0" stroke-linejoin="miter"/>
<polygon points="440.3,966.0 449.3,981.8 431.3,981.8" fill="#000" stroke="none" stroke-width="0" stroke-linejoin="miter"/>
<polygon points="538.2,930.6 547.2,946.4 529.2,946.4" fill="#000" stroke="none" stroke-width="0" stroke-linejoin="miter"/>
<polygon points="636.1,905.0 645.1,920.8 627.1,920.8" fill="#000" stroke="none" stroke-width="0" stroke-linejoin="miter"/>
<polygon points="734.0,899.6 743.0,915.4 725.0,915.4" fill="#000" stroke="none" stroke-width="0" stroke-linejoin="miter"/>
</svg>
</body></html>
